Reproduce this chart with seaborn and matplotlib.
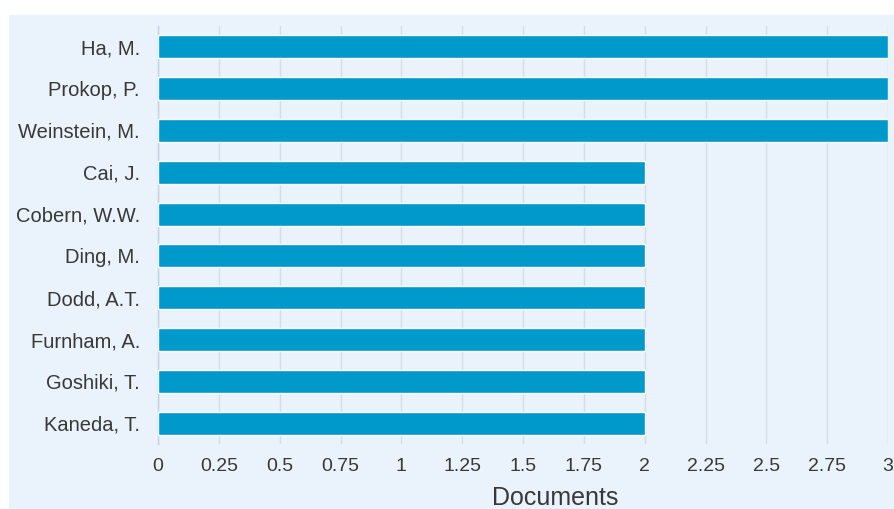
import matplotlib
matplotlib.use("Agg")
import matplotlib.pyplot as plt
import seaborn as sns
import pandas as pd
from matplotlib.patches import Rectangle

# Documents per author
authors = ["Ha, M.", "Prokop, P.", "Weinstein, M.", "Cai, J.", "Cobern, W.W.",
           "Ding, M.", "Dodd, A.T.", "Furnham, A.", "Goshiki, T.", "Kaneda, T."]
documents = [3, 3, 3, 2, 2, 2, 2, 2, 2, 2]
xticks = [0, 0.25, 0.5, 0.75, 1, 1.25, 1.5, 1.75, 2, 2.25, 2.5, 2.75, 3]
xtick_labels = ["0", "0.25", "0.5", "0.75", "1", "1.25", "1.5", "1.75", "2",
                "2.25", "2.5", "2.75", "3"]

bg = "#eaf3fb"
bar_color = "#0099cc"
text_color = "#383838"

sns.set_style("white")
plt.rcParams["font.family"] = ["Liberation Sans", "DejaVu Sans"]

df = pd.DataFrame({"author": authors, "documents": documents})

fig = plt.figure(figsize=(8.94, 5.09), dpi=100)
fig.patch.set_facecolor("white")
# light blue panel behind everything
panel = Rectangle((9 / 894, 0), 1 - 9 / 894, 1 - 15 / 509,
                  transform=fig.transFigure, facecolor=bg,
                  edgecolor="none", zorder=-10)
fig.add_artist(panel)

ax = fig.add_axes([158 / 894, 1 - 444 / 509, (888 - 158) / 894, (444 - 26) / 509])
ax.set_zorder(1)
ax.set_facecolor(bg)

sns.barplot(data=df, x="documents", y="author", orient="h", color=bar_color,
            saturation=1, width=0.55, ax=ax, zorder=3)

ax.set_xlim(0, 3)
ax.set_ylim(9.5, -0.5)
ax.set_xticks(xticks)
ax.set_xticklabels(xtick_labels)
ax.grid(axis="x", color="#d5dde5", linewidth=1, zorder=0)
ax.set_axisbelow(True)

for side in ["top", "right", "bottom"]:
    ax.spines[side].set_visible(False)
ax.spines["left"].set_color("#c3d3e3")
ax.spines["left"].set_linewidth(1)

ax.tick_params(axis="both", length=0, colors=text_color)
ax.tick_params(axis="x", pad=10, labelsize=14)
ax.tick_params(axis="y", pad=13, labelsize=14.5)
ax.set_ylabel("")
ax.set_xlabel("Documents", fontsize=18, color=text_color, labelpad=8)
ax.xaxis.label.set_x(0.544)

fig.savefig("out.png", dpi=100, facecolor=fig.get_facecolor())
